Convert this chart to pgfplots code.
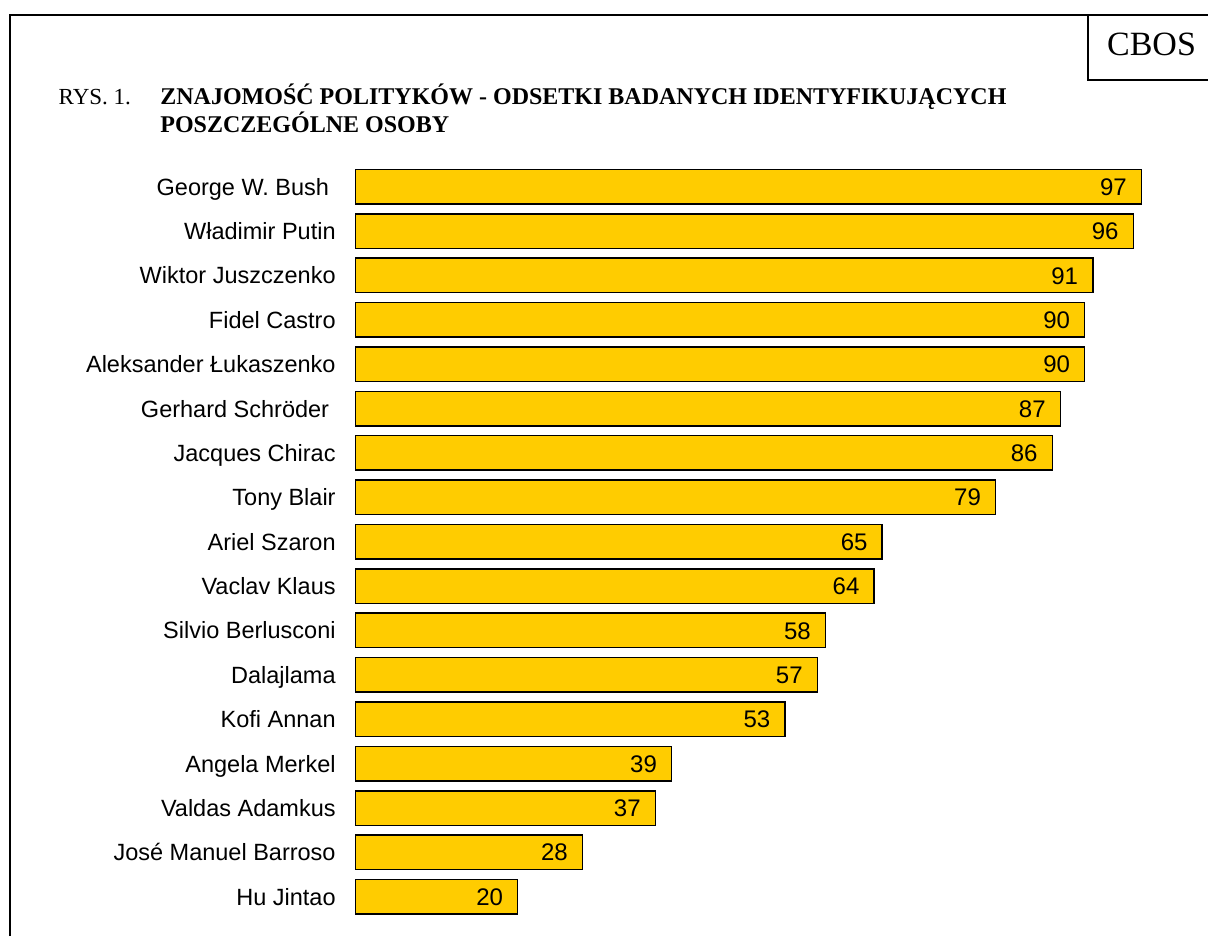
\documentclass[border=0pt]{standalone}
\usepackage{fontspec}
\setmainfont{Liberation Sans}
\newfontfamily\tnr{Liberation Serif}
\usepackage{pgfplots}
\pgfplotsset{compat=1.18}
\definecolor{barfill}{HTML}{FFCC00}
\begin{document}
\begin{tikzpicture}
\begin{scope}[x=0.5bp,y=-0.5bp]
\path[use as bounding box] (0,0) rectangle (1208,936);
\draw[line width=1bp] (10,936) -- (10,15) -- (1208,15);
\draw[line width=1bp] (1088,15) -- (1088,80) -- (1208,80);
\node[anchor=base, inner sep=0pt] at (1151.5,55) {\fontsize{17bp}{20bp}\selectfont\tnr CBOS};
\node[anchor=base west, inner sep=0pt] at (58.3,104.3) {\fontsize{11.5bp}{14bp}\selectfont\tnr RYS. 1.};
\node[anchor=base west, inner sep=0pt] at (160,104.3) {\fontsize{12bp}{14bp}\selectfont\tnr\bfseries ZNAJOMOŚĆ POLITYKÓW - ODSETKI BADANYCH IDENTYFIKUJĄCYCH};
\node[anchor=base west, inner sep=0pt] at (160,132.7) {\fontsize{12bp}{14bp}\selectfont\tnr\bfseries POSZCZEGÓLNE OSOBY};
\end{scope}
\begin{axis}[
  at={(177.85bp,-459.45bp)}, anchor=south west,
  scale only axis, width=405bp, height=377.2bp,
  xbar, bar width=17.25bp,
  xmin=0, xmax=100, ymin=-0.5, ymax=16.5, y dir=reverse,
  axis line style={draw=none}, xtick=\empty,
  ytick={0,1,...,16},
  yticklabels={{George W. Bush\kern0.278em},{Władimir Putin},{Wiktor Juszczenko},{Fidel Castro},{Aleksander Łukaszenko},{Gerhard Schröder\kern0.278em},{Jacques Chirac},{Tony Blair},{Ariel Szaron},{Vaclav Klaus},{Silvio Berlusconi},{Dalajlama},{Kofi Annan},{Angela Merkel},{Valdas Adamkus},{José Manuel Barroso},{Hu Jintao}},
  major tick length=0pt, tick style={draw=none},
  yticklabel style={anchor=base east, inner sep=0pt, xshift=-9.85bp, yshift=-4.2bp, font=\fontsize{11.75bp}{14bp}\selectfont},
  /pgf/number format/assume math mode=true,
  point meta=x,
  nodes near coords,
  every node near coord/.append style={anchor=base east, inner sep=0pt, xshift=-7bp, yshift=-4.3bp, font=\fontsize{12bp}{14bp}\selectfont, text=black},
  clip=false,
]
\addplot[fill=barfill, draw=black, line width=0.75bp] coordinates {
(97,0) (96,1) (91,2) (90,3) (90,4) (87,5) (86,6) (79,7) (65,8) (64,9) (58,10) (57,11) (53,12) (39,13) (37,14) (28,15) (20,16)
};
\end{axis}
\end{tikzpicture}
\end{document}
